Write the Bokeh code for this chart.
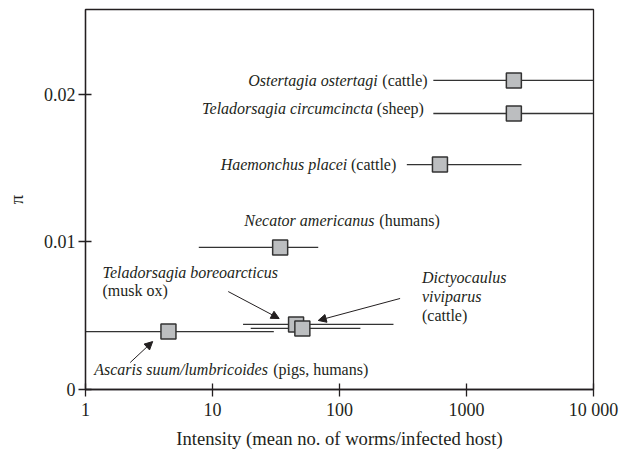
from bokeh.plotting import figure
from bokeh.models import FixedTicker, Arrow, NormalHead, Range1d
from bokeh.core.properties import value
from bokeh.embed import file_html
from bokeh.resources import INLINE

# ---- data ----
species = ["Ostertagia ostertagi", "Teladorsagia circumcincta", "Haemonchus placei",
           "Necator americanus", "Ascaris suum/lumbricoides",
           "Teladorsagia boreoarcticus", "Dictyocaulus viviparus"]
hosts = ["cattle", "sheep", "cattle", "humans", "pigs, humans", "musk ox", "cattle"]
intensity = [2360, 2360, 618, 34.1, 4.5, 45.5, 51]
intensity_lo = [548, 548, 339, 7.8, 1.0, 17.4, 20]
intensity_hi = [10000, 10000, 2710, 68, 30.4, 266, 146]
pi_values = [0.02095, 0.01871, 0.01525, 0.00963, 0.00393, 0.00441, 0.00414]

x_ticks = [1, 10, 100, 1000, 10000]
x_tick_labels = ["1", "10", "100", "1000", "10 000"]
y_ticks = [0, 0.01, 0.02]
y_tick_labels = ["0", "0.01", "0.02"]

FONT = "Liberation Serif"
INK = "#231f20"

p = figure(width=621, height=451, x_axis_type="log",
           x_range=Range1d(1, 10000), y_range=Range1d(0, 0.02576),
           output_backend="svg", toolbar_location=None,
           min_border_left=85, min_border_right=28, min_border_top=9, min_border_bottom=62)

p.grid.grid_line_color = None
p.outline_line_color = INK
p.outline_line_width = 1.3
p.background_fill_color = "white"
p.border_fill_color = "white"

p.xaxis.ticker = FixedTicker(ticks=x_ticks, minor_ticks=[])
p.yaxis.ticker = FixedTicker(ticks=y_ticks, minor_ticks=[])
p.xaxis.major_label_overrides = dict(zip(x_ticks, x_tick_labels))
p.yaxis.major_label_overrides = dict(zip(y_ticks, y_tick_labels))
for ax in (p.xaxis, p.yaxis):
    ax.axis_line_color = INK
    ax.axis_line_width = 1.3
    ax.major_tick_line_color = INK
    ax.major_tick_line_width = 1.3
    ax.major_tick_in = 6
    ax.major_tick_out = 7
    ax.minor_tick_line_color = None
    ax.major_label_text_font = FONT
    ax.major_label_text_font_size = "18px"
    ax.major_label_text_color = INK
    ax.axis_label_text_font = FONT
    ax.axis_label_text_font_style = "normal"
    ax.axis_label_text_font_size = "18.6px"
    ax.axis_label_text_color = INK
p.xaxis.axis_label = "Intensity (mean no. of worms/infected host)"
p.yaxis.axis_label = "π"
p.xaxis.major_label_standoff = 3
p.xaxis.axis_label_standoff = 5
p.yaxis.major_label_standoff = 3
p.yaxis.axis_label_standoff = 14

# whiskers
p.segment(x0=intensity_lo, x1=intensity_hi, y0=pi_values, y1=pi_values,
          line_color="#333333", line_width=1.3)
# squares
p.scatter(x=intensity, y=pi_values, marker="square", size=15,
          fill_color="#bcbec0", line_color="#333333", line_width=1.5)

# ---- labels (layout) ----
def txt(x, y, text, style, align, xoff=0):
    p.text(x=[x], y=[y], text=[text], text_font=value(FONT), text_font_size="16px",
           text_font_style=style, text_align=align, text_baseline="middle",
           text_color=INK, x_offset=xoff)

# right-aligned labels: species italic + host normal
txt(494, 0.02095, "(" + hosts[0] + ")", "normal", "right")
txt(494, 0.02095, species[0], "italic", "right", -50)
txt(462, 0.01905, "(" + hosts[1] + ")", "normal", "right")
txt(462, 0.01905, species[1], "italic", "right", -51)
txt(280, 0.01525, "(" + hosts[2] + ")", "normal", "right")
txt(280, 0.01525, species[2], "italic", "right", -49)
# left aligned
txt(17.8, 0.01146, species[3], "italic", "left")
txt(17.8, 0.01146, "(" + hosts[3] + ")", "normal", "left", 135)
txt(1.17, 0.00136, species[4], "italic", "left")
txt(1.17, 0.00136, "(" + hosts[4] + ")", "normal", "left", 179)
txt(1.36, 0.00793, species[5], "italic", "left")
txt(1.36, 0.00671, "(" + hosts[5] + ")", "normal", "left")
txt(446, 0.00759, species[6].split(" ")[0], "italic", "left")
txt(446, 0.00631, species[6].split(" ")[1], "italic", "left")
txt(446, 0.00502, "(" + hosts[6] + ")", "normal", "left")

# arrows
for xs, ys, xe, ye in [(13.3, 0.00664, 33.5, 0.00481),
                       (300, 0.00617, 68, 0.00468),
                       (2.25, 0.00183, 3.38, 0.00325)]:
    p.add_layout(Arrow(end=NormalHead(size=8, fill_color=INK, line_color=INK, line_width=1),
                       x_start=xs, y_start=ys, x_end=xe, y_end=ye,
                       line_color=INK, line_width=1))

open("out.html", "w").write(file_html(p, INLINE))
